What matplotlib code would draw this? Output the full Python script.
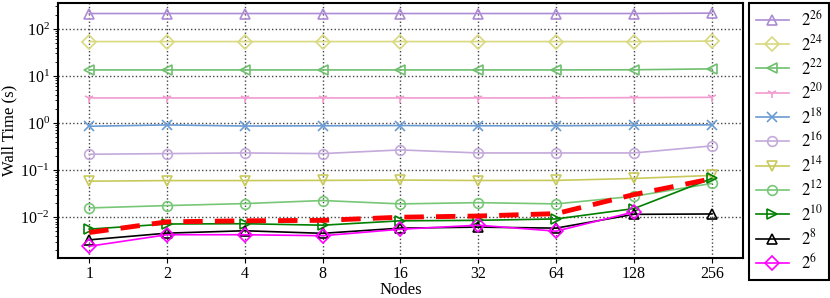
import matplotlib
matplotlib.use("Agg")
import matplotlib.pyplot as plt

plt.rcParams['font.family'] = ['Liberation Serif', 'DejaVu Serif']
plt.rcParams['mathtext.fontset'] = 'stix'

nodes = [1, 2, 4, 8, 16, 32, 64, 128, 256]

# wall times per problem size (s)
t26 = [212, 212, 212, 212, 212, 212, 212, 212, 216]
t24 = [53.7, 53.7, 53.7, 53.7, 53.7, 53.7, 53.7, 53.7, 55]
t22 = [13.4, 13.4, 13.4, 13.4, 13.4, 13.4, 13.4, 13.5, 14.1]
t20 = [3.4, 3.4, 3.4, 3.4, 3.4, 3.4, 3.4, 3.45, 3.5]
t18 = [0.85, 0.906, 0.86, 0.87, 0.88, 0.87, 0.87, 0.89, 0.91]
t16 = [0.216, 0.223, 0.23, 0.223, 0.267, 0.23, 0.23, 0.23, 0.325]
t14 = [0.0578, 0.0595, 0.0595, 0.06, 0.061, 0.0597, 0.06, 0.066, 0.0766]
t12 = [0.0156, 0.0175, 0.0193, 0.0224, 0.019, 0.0202, 0.019, 0.0276, 0.0517]
t10 = [0.00553, 0.0071, 0.0072, 0.0067, 0.0083, 0.0085, 0.0091, 0.0151, 0.066]
t8 = [0.00327, 0.00454, 0.0051, 0.0045, 0.0058, 0.0061, 0.0058, 0.0114, 0.0116]
t6 = [0.00239, 0.0042, 0.0042, 0.004, 0.0055, 0.0067, 0.005, 0.0128]
ideal = [0.00468, 0.0079, 0.0083, 0.0085, 0.0099, 0.0105, 0.0118, 0.03, 0.065]

series = [
    (t26, r'$2^{26}$', '#ad8cd4', '^'),
    (t24, r'$2^{24}$', '#d9d97f', 'D'),
    (t22, r'$2^{22}$', '#6fbf6f', '<'),
    (t20, r'$2^{20}$', '#f39bd0', '1'),
    (t18, r'$2^{18}$', '#6b9bd3', 'x'),
    (t16, r'$2^{16}$', '#c3aadb', 'o'),
    (t14, r'$2^{14}$', '#c9c95b', 'v'),
    (t12, r'$2^{12}$', '#77c777', 'o'),
    (t10, r'$2^{10}$', 'green', '>'),
    (t8, r'$2^{8}$', 'black', '^'),
    (t6, r'$2^{6}$', 'magenta', 'D'),
]

fig = plt.figure(figsize=(8.3, 2.98), dpi=100)
ax = fig.add_axes([0.07, 0.134, 0.825, 0.856])

ax.plot(nodes, ideal, color='red', linestyle='--', linewidth=3.5, dashes=(4, 2.5), zorder=3)
for vals, lab, col, mk in series:
    ax.plot(nodes[:len(vals)], vals, color=col, marker=mk, markersize=7,
            markerfacecolor='none', markeredgewidth=1.2, linewidth=1.2, label=lab)

ax.set_xscale('log', base=2)
ax.set_yscale('log')
ax.set_xticks(nodes)
ax.set_xticklabels([str(n) for n in nodes])
ax.minorticks_off()
ax.yaxis.set_minor_locator(matplotlib.ticker.LogLocator(base=10, subs=range(2, 10), numticks=20))
ax.yaxis.set_minor_formatter(matplotlib.ticker.NullFormatter())
ax.set_xlim(2 ** -0.4, 2 ** 8.4)
ax.set_ylim(0.00134, 355)
ax.grid(True, which='major', linestyle=':', color='#444444', linewidth=1)
ax.tick_params(labelsize=11.5, pad=2.5)
for s in ax.spines.values():
    s.set_linewidth(1.5)

ax.set_xlabel('Nodes', fontsize=12, labelpad=0)
ax.set_ylabel('Wall Time (s)', fontsize=12, labelpad=2)

leg = ax.legend(loc='upper left', bbox_to_anchor=(1.009, 1.0), borderaxespad=0,
                fancybox=False, edgecolor='black', framealpha=1, fontsize=12,
                handlelength=2.0, labelspacing=0.26, borderpad=0.4, handletextpad=0.7)
leg.get_frame().set_linewidth(1.5)

fig.savefig('out.png', dpi=100)
